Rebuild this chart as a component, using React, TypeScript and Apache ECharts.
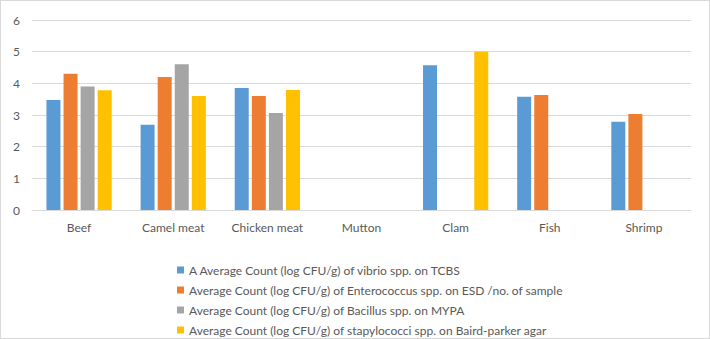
import React, { useEffect, useRef } from "react";
import * as echarts from "echarts";

const categories = ["Beef", "Camel meat", "Chicken meat", "Mutton", "Clam", "Fish", "Shrimp"];
const seriesNames = [
  "A Average Count (log CFU/g) of vibrio spp. on TCBS",
  "Average Count (log CFU/g) of Enterococcus spp. on ESD /no. of sample",
  "Average Count (log CFU/g) of Bacillus spp. on MYPA",
  "Average Count (log CFU/g) of stapylococci spp. on Baird-parker agar",
];
const vibrio = [3.47, 2.69, 3.85, null, 4.57, 3.58, 2.79];
const enterococcus = [4.3, 4.2, 3.6, null, null, 3.63, 3.03];
const bacillus = [3.9, 4.6, 3.06, null, null, null, null];
const staphylococci = [3.78, 3.6, 3.79, null, 5.0, null, null];
const seriesColors = ["#5B9BD5", "#ED7D31", "#A5A5A5", "#FFC000"];
const yTicks = { min: 0, max: 6, interval: 1 };

export default function App() {
  const ref = useRef<HTMLDivElement>(null);
  useEffect(() => {
    if (!ref.current) return;
    const chart = echarts.init(ref.current, null, { renderer: "svg" });
    const font = "Lato, 'Open Sans', sans-serif";
    const data = [vibrio, enterococcus, bacillus, staphylococci];
    chart.setOption({
      animation: false,
      backgroundColor: "#ffffff",
      textStyle: { fontFamily: font },
      grid: { left: 31, right: 18, top: 19, bottom: 128, containLabel: false },
      legend: {
        orient: "vertical",
        left: 176,
        top: 262,
        padding: 0,
        itemWidth: 7,
        itemHeight: 7,
        itemGap: 6,
        icon: "rect",
        textStyle: { fontSize: 12, color: "#595959", fontFamily: font, lineHeight: 14 },
        data: seriesNames,
      },
      xAxis: {
        type: "category",
        data: categories,
        axisTick: { show: false },
        axisLine: { lineStyle: { color: "#d9d9d9", width: 1 } },
        axisLabel: { color: "#595959", fontSize: 12, margin: 11, fontFamily: font },
      },
      yAxis: {
        type: "value",
        min: yTicks.min,
        max: yTicks.max,
        interval: yTicks.interval,
        axisLine: { show: false },
        axisTick: { show: false },
        splitLine: { lineStyle: { color: "#d9d9d9", width: 1 } },
        axisLabel: { color: "#595959", fontSize: 12, margin: 12, fontFamily: font },
      },
      series: seriesNames.map((name, i) => ({
        name,
        type: "bar",
        data: data[i],
        barWidth: 14,
        barGap: "22%",
        itemStyle: { color: seriesColors[i] },
      })),
    });
    return () => chart.dispose();
  }, []);
  return (
    <div
      ref={ref}
      style={{
        position: "fixed",
        left: 0,
        top: 0,
        width: 710,
        height: 339,
        boxSizing: "border-box",
        border: "1px solid #d9d9d9",
      }}
    />
  );
}
